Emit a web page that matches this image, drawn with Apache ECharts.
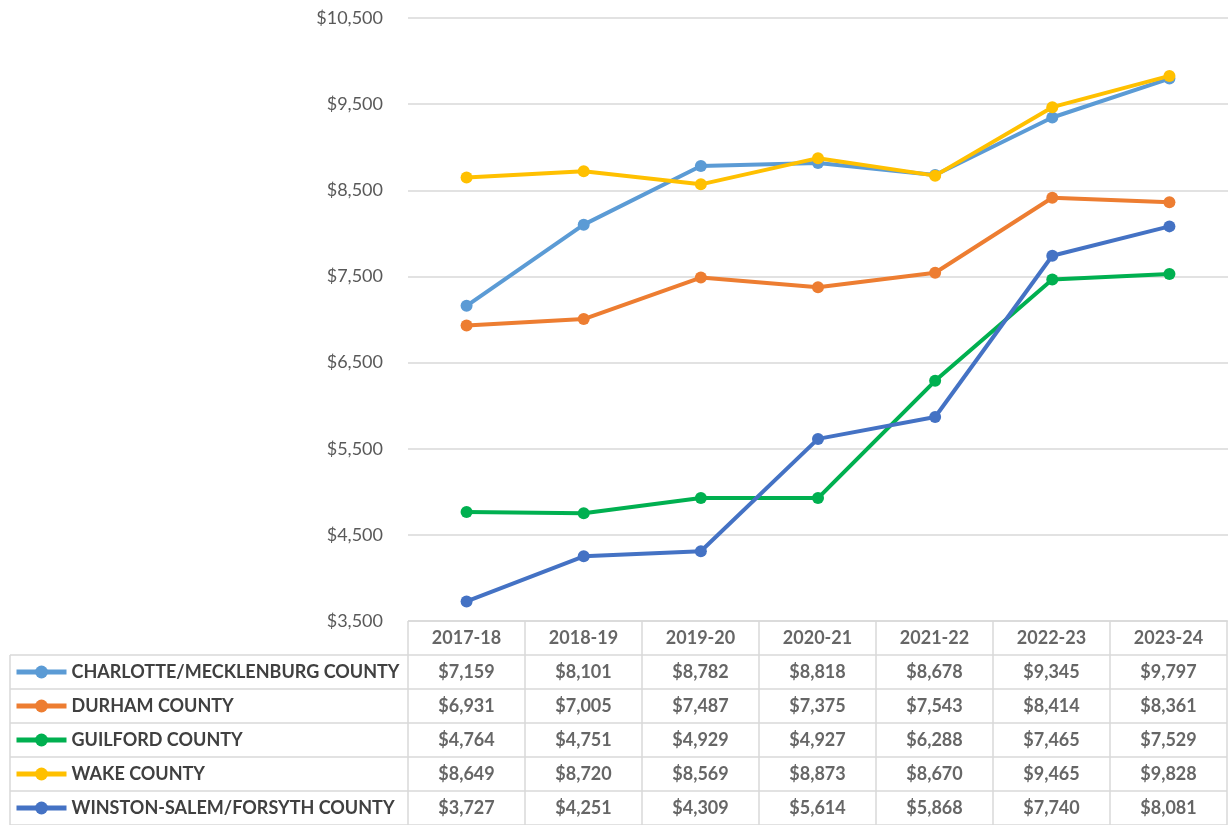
<!DOCTYPE html>
<html><head><meta charset="utf-8">
<script src="https://cdn.jsdelivr.net/npm/echarts@6/dist/echarts.min.js"></script>
<style>html,body{margin:0;padding:0;background:#fff}#c{width:1228px;height:825px}</style>
</head><body><div id="c"></div>
<script>
const years = ['2017-18','2018-19','2019-20','2020-21','2021-22','2022-23','2023-24'];
const names = ['CHARLOTTE/MECKLENBURG COUNTY','DURHAM COUNTY','GUILFORD COUNTY','WAKE COUNTY','WINSTON-SALEM/FORSYTH COUNTY'];
const charlotte = [7159,8101,8782,8818,8678,9345,9797];
const durham    = [6931,7005,7487,7375,7543,8414,8361];
const guilford  = [4764,4751,4929,4927,6288,7465,7529];
const wake      = [8649,8720,8569,8873,8670,9465,9828];
const winston   = [3727,4251,4309,5614,5868,7740,8081];
const colors = ['#5B9BD5','#ED7D31','#00B050','#FFC000','#4472C4'];
const seriesValues = [charlotte, durham, guilford, wake, winston];

const FONT = 'Lato';
const fmt = v => '$' + v.toLocaleString('en-US');

const lineSeries = names.map((n, i) => ({
  name: n, type: 'line', data: seriesValues[i], xAxisIndex: 0, yAxisIndex: 0,
  symbol: 'circle', symbolSize: 12, lineStyle: {width: 4, color: colors[i]},
  itemStyle: {color: colors[i]}, z: 3 + i
}));

// table cells
const rowLabels = ['header'].concat(names);
const cells = [];
years.forEach((y, c) => cells.push([c, 0, y]));
seriesValues.forEach((arr, r) => arr.forEach((v, c) => cells.push([c, r + 1, fmt(v)])));

const tableTop = 621, rowH = 34, tableLeft = 408, outerLeft = 10;
const graphics = [];
for (let k = 1; k <= names.length + 1; k++) {
  graphics.push({type: 'line', silent: true, shape: {x1: outerLeft, y1: tableTop + rowH * k, x2: tableLeft, y2: tableTop + rowH * k}, style: {stroke: '#d9d9d9', lineWidth: 1.5}});
}
graphics.push({type: 'line', silent: true, shape: {x1: outerLeft, y1: tableTop + rowH, x2: outerLeft, y2: tableTop + rowH * (names.length + 1)}, style: {stroke: '#d9d9d9', lineWidth: 1.5}});

const legends = names.map((n, i) => ({
  data: [n], orient: 'horizontal', left: 14, top: tableTop + rowH * (i + 1) + 7,
  itemWidth: 50, itemHeight: 16, itemGap: 0, padding: 0, selectedMode: false,
  lineStyle: {width: 5},
  textStyle: {fontFamily: FONT, fontWeight: 'bold', fontSize: 18, color: '#404040', lineHeight: 20}
}));

const chart = echarts.init(document.getElementById('c'));
chart.setOption({
  animation: false,
  backgroundColor: '#fff',
  grid: [
    {left: tableLeft, right: 0, top: 18, bottom: 825 - tableTop},
    {left: tableLeft, right: 1, top: tableTop, height: rowH * (names.length + 1)}
  ],
  xAxis: [
    {type: 'category', data: years, gridIndex: 0, boundaryGap: true, axisLine: {show: false}, axisTick: {show: false}, axisLabel: {show: false}},
    {type: 'category', data: years, gridIndex: 1, boundaryGap: true, axisLine: {show: false}, axisTick: {show: false}, axisLabel: {show: false},
     splitLine: {show: true, lineStyle: {color: '#d9d9d9', width: 1.5}}}
  ],
  yAxis: [
    {type: 'value', gridIndex: 0, min: 3500, max: 10500, interval: 1000,
     axisLine: {show: false}, axisTick: {show: false},
     axisLabel: {formatter: v => fmt(v), color: '#595959', fontFamily: FONT, fontSize: 18, margin: 25},
     splitLine: {lineStyle: {color: '#d9d9d9', width: 1.5}}},
    {type: 'category', data: rowLabels, gridIndex: 1, inverse: true, boundaryGap: true, axisLine: {show: false}, axisTick: {show: false}, axisLabel: {show: false},
     splitLine: {show: true, lineStyle: {color: '#d9d9d9', width: 1.5}}}
  ],
  legend: legends,
  graphic: graphics,
  series: lineSeries.concat([{
    type: 'scatter', name: 'table', xAxisIndex: 1, yAxisIndex: 1, symbolSize: 0, silent: true,
    data: cells,
    label: {show: true, position: 'inside', formatter: p => p.data[2], fontFamily: FONT, fontWeight: 'bold', fontSize: 18, color: '#404040'}
  }])
});
</script></body></html>
